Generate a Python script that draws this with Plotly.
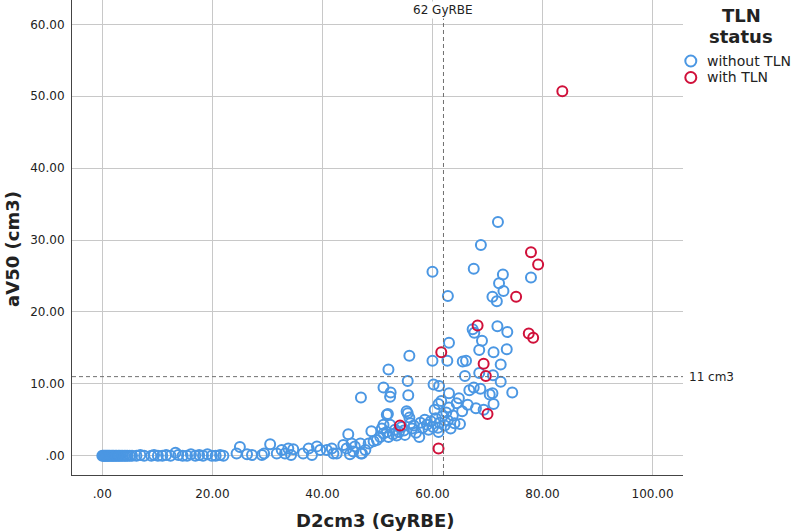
import plotly.graph_objects as go

# ---------------- data ----------------
x_tick_vals = [0, 20, 40, 60, 80, 100]
x_tick_text = [".00", "20.00", "40.00", "60.00", "80.00", "100.00"]
y_tick_vals = [0, 10, 20, 30, 40, 50, 60]
y_tick_text = [".00", "10.00", "20.00", "30.00", "40.00", "50.00", "60.00"]

ref_dose = 62      # GyRBE
ref_volume = 11    # cm3

without_tln_x = [
    0.0, 0.2, 0.4, 0.6, 0.8, 1.0, 1.2, 1.4, 1.7, 1.9, 2.1, 2.4, 2.6, 2.9, 3.1, 3.4, 3.7, 4.0, 4.3, 4.6,
    5.0, 5.4, 6.2, 6.9, 7.6, 8.9, 9.4, 10.1, 10.9, 11.6, 12.4, 13.3, 13.8, 14.6, 15.4, 16.1, 16.9, 17.6,
    18.3, 19.1, 19.9, 20.6, 21.4, 22.0,
    24.4, 25.0, 26.3, 27.2, 29.0, 29.4, 30.5, 31.7, 32.6, 33.2, 33.8, 34.3, 34.7, 36.5, 37.5, 38.1,
    39.0, 39.6, 40.8, 41.7, 42.0, 42.6, 43.8, 44.4, 44.7, 45.0, 45.3, 45.6, 45.9, 46.9, 47.0, 47.2,
    47.8, 48.4, 48.9, 49.3, 49.9, 50.5, 50.8, 51.1, 51.1, 51.7, 51.7, 52.0, 52.3, 52.8, 53.2, 53.5,
    53.9, 54.4, 54.8, 55.0, 55.3, 55.5, 55.8, 56.0, 56.3, 56.6, 57.0, 57.6, 57.8, 58.2, 58.6, 59.0,
    59.3, 59.7, 60.1, 60.4, 60.6, 61.0, 61.1, 61.1, 61.3, 61.6, 61.8, 62.2, 62.5, 62.8, 63.0, 63.3,
    63.7, 64.0, 64.4, 64.8, 65.0, 65.4, 66.4, 67.9, 69.3, 71.1,
    47.0, 51.1, 52.0, 52.4, 52.3, 51.9, 55.5, 55.6, 55.8, 60.0, 60.2, 61.2, 62.7, 63.0, 63.0, 62.8,
    60.0, 65.5, 66.1, 65.9, 66.7, 67.5, 68.7, 68.5, 70.4, 70.9, 71.0, 72.4, 72.4, 74.5, 67.3, 67.6,
    68.5, 69.0, 71.1, 71.8, 73.5, 73.6, 70.9, 71.7, 72.9, 72.1, 72.8, 77.9, 67.5, 68.8, 71.9,
]
without_tln_y = [
    0.0, 0.0, 0.0, 0.0, 0.0, 0.0, 0.0, 0.0, 0.0, 0.0, 0.0, 0.0, 0.0, 0.0, 0.0, 0.0, 0.0, 0.0, 0.0, 0.0,
    0.0, 0.0, 0.0, 0.1, 0.0, 0.0, 0.1, 0.0, 0.0, 0.1, 0.0, 0.4, 0.1, 0.0, 0.0, 0.2, 0.0, 0.1,
    0.0, 0.2, 0.0, 0.0, 0.1, 0.0,
    0.3, 1.2, 0.2, 0.1, 0.1, 0.3, 1.6, 0.3, 0.8, 0.3, 1.0, 0.1, 0.9, 0.3, 1.0, 0.1,
    1.3, 0.8, 0.8, 1.0, 0.3, 0.3, 1.5, 1.0, 3.0, 0.2, 1.7, 0.6, 1.3, 1.7, 0.3, 0.3,
    0.8, 1.7, 3.4, 2.0, 2.2, 2.6, 3.8, 3.1, 4.3, 3.3, 5.7, 2.6, 4.3, 3.0, 3.6, 2.8,
    3.3, 4.0, 3.5, 2.9, 6.2, 5.9, 5.3, 4.5, 3.8, 4.2, 3.2, 2.6, 4.6, 3.9, 5.0, 4.3,
    3.6, 4.8, 4.0, 6.4, 5.2, 3.9, 7.2, 3.3, 4.6, 7.6, 5.5, 4.2, 6.0, 4.9, 6.7, 3.8,
    5.6, 4.5, 7.3, 8.0, 4.4, 6.2, 7.1, 6.6, 6.4, 7.2,
    8.1, 9.5, 12.0, 8.8, 8.2, 5.8, 10.4, 8.4, 13.9, 13.2, 9.9, 9.7, 13.2, 8.7, 15.7, 22.2,
    25.6, 13.1, 13.2, 11.1, 9.1, 9.5, 9.3, 11.5, 8.5, 8.7, 11.2, 10.3, 12.7, 8.8, 17.6, 17.1,
    14.7, 16.0, 14.4, 18.0, 14.8, 17.2, 22.1, 21.5, 22.9, 24.0, 25.2, 24.8, 26.0, 29.3, 32.5,
]

with_tln_x = [83.6, 77.9, 79.2, 75.2, 68.2, 77.5, 78.3, 61.6, 69.3, 69.7, 70.0, 54.1, 61.1]
with_tln_y = [50.7, 28.3, 26.6, 22.1, 18.1, 17.0, 16.4, 14.4, 12.8, 11.1, 5.8, 4.2, 1.0]

series_names = ["without TLN", "with TLN"]
legend_title = ["TLN", "status"]

# ---------------- styling ----------------
BLUE = "#4b97e3"
RED = "#d0103a"
FONT = "DejaVu Sans"
TXT = "#222222"
colors = [BLUE, RED]

fig = go.Figure()
for xs, ys, name, col in [(without_tln_x, without_tln_y, series_names[0], BLUE),
                          (with_tln_x, with_tln_y, series_names[1], RED)]:
    fig.add_trace(go.Scatter(
        x=xs, y=ys, mode="markers", name=name, showlegend=False,
        marker=dict(symbol="circle-open", size=10, color=col, line=dict(width=2, color=col)),
    ))

# reference lines
fig.add_shape(type="line", xref="x", yref="paper", x0=ref_dose, x1=ref_dose, y0=0, y1=1,
              line=dict(color="#707070", width=1, dash="4px,3px"), layer="above")
fig.add_shape(type="line", xref="paper", yref="y", x0=0, x1=1, y0=ref_volume, y1=ref_volume,
              line=dict(color="#707070", width=1, dash="4px,3px"), layer="above")

fig.add_annotation(x=ref_dose, xref="x", xanchor="center", y=1, yref="paper", yanchor="top", yshift=-1,
                   text=f"{ref_dose} GyRBE", showarrow=False, bgcolor="white",
                   font=dict(family=FONT, size=12, color=TXT))
fig.add_annotation(x=1, xref="paper", xanchor="left", xshift=4, y=ref_volume, yref="y",
                   yanchor="middle", text=f"{ref_volume} cm3", showarrow=False,
                   font=dict(family=FONT, size=12, color=TXT))

# axis titles
fig.add_annotation(x=-0.0966, xref="paper", xanchor="center", y=0.476, yref="paper",
                   yanchor="middle", textangle=-90,
                   text="<b>aV50 (cm3)</b>", showarrow=False,
                   font=dict(family=FONT, size=18, color=TXT))
fig.add_annotation(x=0.496, xref="paper", xanchor="center", y=-0.095, yref="paper", yanchor="middle",
                   text="<b>D2cm3 (GyRBE)</b>", showarrow=False,
                   font=dict(family=FONT, size=18, color=TXT))

# legend (title + entries, positioned in pixels right of the plot area)
PLOT_L, PLOT_W, PLOT_H = 72, 610.7, 475
def px_x(px):
    return (px - PLOT_L) / PLOT_W
def px_y(py):
    return (PLOT_H - py) / PLOT_H

fig.add_annotation(x=px_x(741), y=px_y(16), xref="paper", yref="paper", showarrow=False,
                   xanchor="center", yanchor="middle",
                   text=f"<b>{legend_title[0]}</b>", font=dict(family=FONT, size=18, color=TXT))
fig.add_annotation(x=px_x(741), y=px_y(37), xref="paper", yref="paper", showarrow=False,
                   xanchor="center", yanchor="middle",
                   text=f"<b>{legend_title[1]}</b>", font=dict(family=FONT, size=18, color=TXT))
for i, (name, col) in enumerate(zip(series_names, colors)):
    cy = 61 + i * 16.5
    fig.add_shape(type="circle", xref="paper", yref="paper",
                  xsizemode="pixel", ysizemode="pixel",
                  xanchor=px_x(690.5), yanchor=px_y(cy),
                  x0=-5.5, x1=5.5, y0=-5.5, y1=5.5,
                  line=dict(color=col, width=2), fillcolor="rgba(0,0,0,0)")
    fig.add_annotation(x=px_x(705), y=px_y(cy), xref="paper", yref="paper", showarrow=False,
                       xanchor="left", yanchor="middle",
                       text=name, font=dict(family=FONT, size=14, color=TXT))

fig.update_layout(
    width=795, height=532,
    margin=dict(l=72, r=112, t=0, b=57, autoexpand=False),
    paper_bgcolor="white", plot_bgcolor="white",
    font=dict(family=FONT, size=12, color=TXT),
    showlegend=False,
    xaxis=dict(
        range=[-5.51, 105.53], tickvals=x_tick_vals, ticktext=x_tick_text,
        showgrid=True, gridcolor="#c8c8c8", gridwidth=1, zeroline=False,
        showline=True, linecolor="#444444", linewidth=1, ticks="", ticklabelstandoff=8,
        tickfont=dict(family=FONT, size=12, color=TXT),
    ),
    yaxis=dict(
        range=[-2.68, 63.38], tickvals=y_tick_vals, ticktext=y_tick_text,
        showgrid=True, gridcolor="#c8c8c8", gridwidth=1, zeroline=False,
        showline=True, linecolor="#444444", linewidth=1, ticks="", ticklabelstandoff=4,
        tickfont=dict(family=FONT, size=12, color=TXT),
    ),
)

fig.write_html("out.html", config={"displayModeBar": False},
               post_script="document.body.style.margin='0';")
